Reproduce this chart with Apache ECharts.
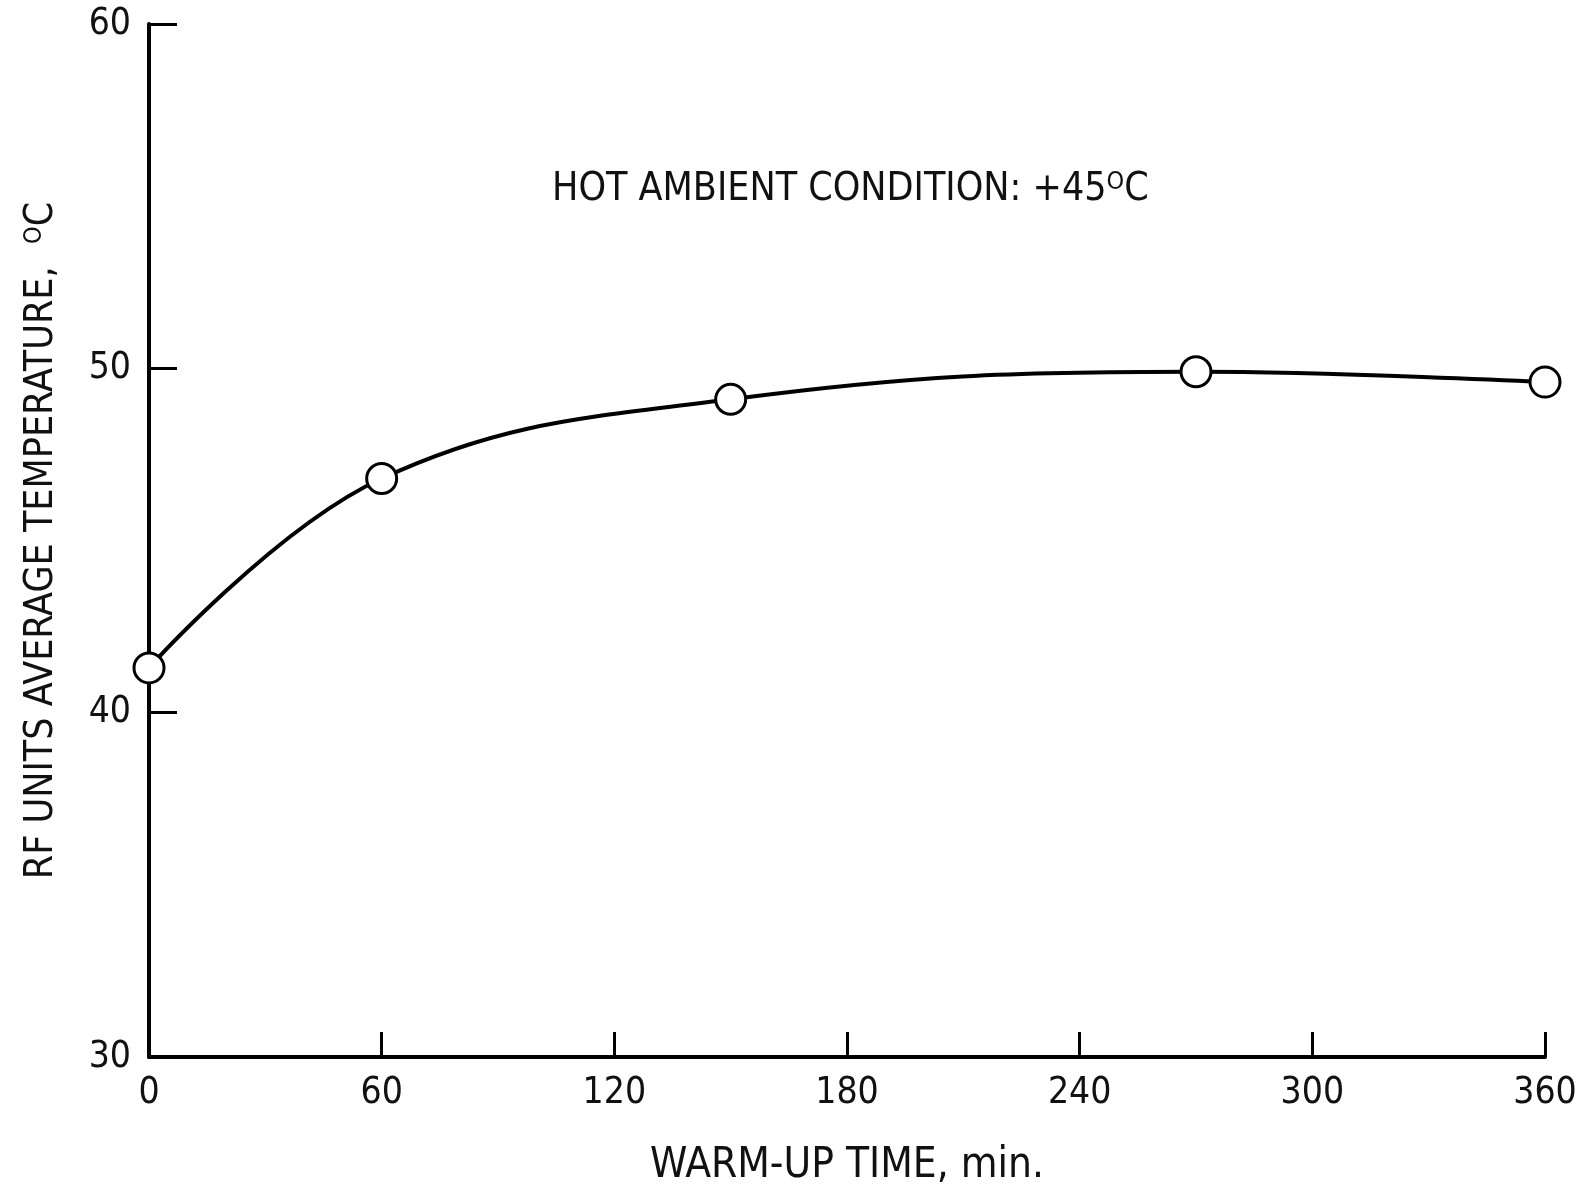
<!DOCTYPE html>
<html>
<head>
<meta charset="utf-8">
<title>RF units warm-up temperature</title>
<script src="https://cdn.jsdelivr.net/npm/echarts@6/dist/echarts.min.js"></script>
<style>
  html, body { margin: 0; padding: 0; background: #fff; }
  #chart { width: 1581px; height: 1188px; }
</style>
</head>
<body>
<div id="chart"></div>
<script>
// Warm-up time (minutes) and measured RF unit average temperature (deg C)
var warmUpMinutes = [0, 60, 150, 270, 360];
var avgTempC = [41.3, 46.8, 49.1, 49.9, 49.6];

var xTicks = [0, 60, 120, 180, 240, 300, 360];
var yTicks = [30, 40, 50, 60];

var FONT = '"Liberation Sans Narrow", "DejaVu Sans Condensed", "Liberation Sans", sans-serif';

var points = warmUpMinutes.map(function (t, i) { return [t, avgTempC[i]]; });

var chart = echarts.init(document.getElementById('chart'), null, { renderer: 'canvas' });

chart.setOption({
  backgroundColor: '#fff',
  animation: false,
  grid: { left: 149, right: 36, top: 24, bottom: 131, containLabel: false, outerBoundsMode: 'none' },
  xAxis: {
    type: 'value',
    min: xTicks[0],
    max: xTicks[xTicks.length - 1],
    interval: 60,
    name: 'WARM-UP TIME, min.',
    nameLocation: 'middle',
    nameGap: 88,
    nameTextStyle: { fontFamily: FONT, fontSize: 42, color: '#111' },
    axisLine: { lineStyle: { color: '#000', width: 4 } },
    axisTick: { inside: true, length: 25, lineStyle: { color: '#000', width: 3 } },
    axisLabel: { fontFamily: FONT, fontSize: 37, color: '#111', margin: 18 },
    splitLine: { show: false }
  },
  yAxis: {
    type: 'value',
    min: yTicks[0],
    max: yTicks[yTicks.length - 1],
    interval: 10,
    name: '{t|RF UNITS AVERAGE TEMPERATURE,  }{s|O}{t|C}',
    nameLocation: 'middle',
    nameGap: 88,
    nameRotate: 90,
    nameTextStyle: {
      fontFamily: FONT, fontSize: 39, color: '#111',
      rich: {
        t: { fontFamily: FONT, fontSize: 39, color: '#111' },
        s: { fontFamily: FONT, fontSize: 25, color: '#111', verticalAlign: 'top', padding: [0, 0, 14, 0] }
      }
    },
    axisLine: { lineStyle: { color: '#000', width: 4 } },
    axisTick: { inside: true, length: 28, lineStyle: { color: '#000', width: 3 } },
    axisLabel: { fontFamily: FONT, fontSize: 37, color: '#111', margin: 18 },
    splitLine: { show: false }
  },
  graphic: [{
    type: 'text',
    left: 552,
    top: 170,
    style: {
      text: '{t|HOT AMBIENT CONDITION: +45}{s|O}{t|C}',
      rich: {
        t: { fontFamily: FONT, fontSize: 39, fill: '#111' },
        s: { fontFamily: FONT, fontSize: 25, fill: '#111', verticalAlign: 'top', padding: [0, 0, 14, 0] }
      }
    }
  }],
  series: [{
    type: 'line',
    data: points,
    smooth: 0.4,
    symbol: 'circle',
    symbolSize: 30,
    lineStyle: { color: '#000', width: 4 },
    itemStyle: { color: '#fff', borderColor: '#000', borderWidth: 3 },
    z: 3
  }]
});
</script>
</body>
</html>
